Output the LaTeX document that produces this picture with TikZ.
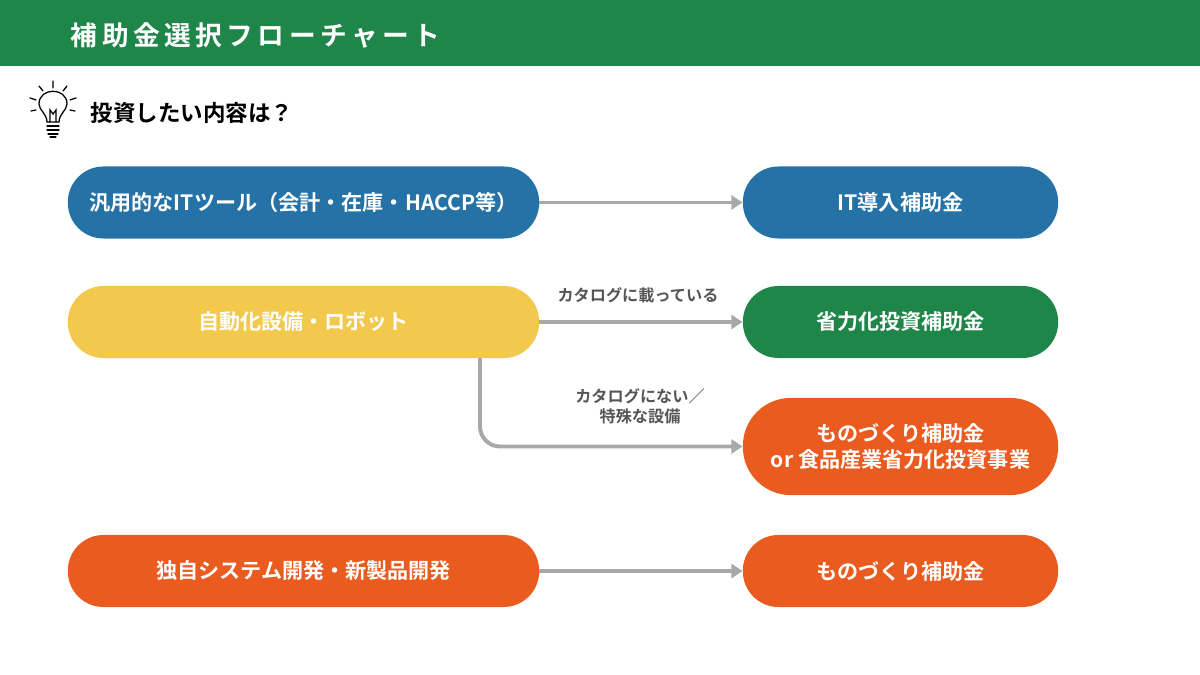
\documentclass[tikz,border=0pt]{standalone}
\usepackage{fontspec}
\setmainfont{Noto Sans CJK JP}[BoldFont={* Bold}]
\usetikzlibrary{arrows.meta}
\definecolor{hdgreen}{HTML}{1F864A}
\definecolor{itblue}{HTML}{2573A6}
\definecolor{robyellow}{HTML}{F2C94C}
\definecolor{mfgorange}{HTML}{E95B1E}
\definecolor{arrowgray}{HTML}{A8A8A8}
\definecolor{labelgray}{HTML}{555555}
\tikzset{
	pill/.style={rounded corners=0.89cm, minimum height=1.8cm, inner sep=0pt, text=white, font=\bfseries\fontsize{15}{19}\selectfont, align=center},
	leftpill/.style={pill, minimum width=11.78cm},
	rightpill/.style={pill, minimum width=7.88cm},
	flow/.style={-{Triangle[length=8pt,width=10pt]}, arrowgray, line width=2.8pt},
	note/.style={text=labelgray, font=\bfseries\fontsize{11.5}{14}\selectfont, align=center}
}
\begin{document}
\begin{tikzpicture}[x=0.025cm,y=-0.025cm]
		\useasboundingbox (0,0) rectangle (1200,675);
		\fill[hdgreen] (0,0) rectangle (1200,66);
		\node (title) [anchor=west, text=white, font=\bfseries\fontsize{19}{22}\selectfont] at (66,35) {補\,助\,金\,選\,択\,フ\,ロ\,ー\,チ\,ャ\,ー\,ト};

		% lightbulb
		\begin{scope}[line width=0.9pt, line cap=round]
			\draw (47,122) .. controls (47,114) and (39,110) .. (39,104) .. controls (39,87) and (67,87) .. (67,104) .. controls (67,110) and (59,114) .. (59,122) -- cycle;
			\draw (50,122) -- (50,110) -- (53,114) -- (56,110) -- (56,122);
			\draw (47,126) -- (59,126) (47,130) -- (59,130) (48,134) -- (58,134);
			\draw (50,137) -- (56,137);
			\draw (53,81) -- (53,88) (39,86) -- (43,91) (67,86) -- (63,91) (30,98) -- (36,100) (76,98) -- (70,100) (31,111) -- (36,110) (75,111) -- (70,110);
		\end{scope}
		\node (question) [anchor=west, font=\bfseries\fontsize{16}{19}\selectfont] at (86,113) {投資したい内容は？};

		\node (itneed) [leftpill, fill=itblue] at (303.5,202.5) {汎用的なITツール（会計・在庫・HACCP等）};
		\node (robot) [leftpill, fill=robyellow] at (303.5,322) {自動化設備・ロボット};
		\node (system) [leftpill, fill=mfgorange] at (303.5,571) {独自システム開発・新製品開発};

		\node (itsub) [rightpill, fill=itblue] at (900.5,202.5) {IT導入補助金};
		\node (labsub) [rightpill, fill=hdgreen] at (900.5,322) {省力化投資補助金};
		\node (mfgsub) [rightpill, fill=mfgorange, minimum height=2.43cm, rounded corners=1.2cm] at (900.5,446.5) {ものづくり補助金\\or 食品産業省力化投資事業};
		\node (mfgsub2) [rightpill, fill=mfgorange] at (900.5,571) {ものづくり補助金};

		\draw[flow] (itneed) -- (itsub);
		\draw[flow] (robot) -- (labsub);
		\draw[flow] (system) -- (mfgsub2);
		\coordinate (drop) at (480,358);
		\draw[flow, rounded corners=0.5cm] (drop) |- (mfgsub.west);

		\node (catalog) [note] at (638,295) {カタログに載っている};
		\node (special) [note] at (640,406) {カタログにない／\\特殊な設備};
	\end{tikzpicture}
\end{document}
